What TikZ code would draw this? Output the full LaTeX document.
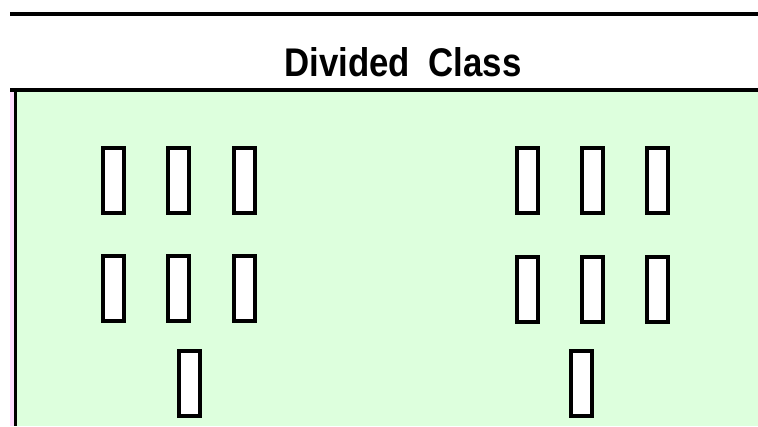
\documentclass[tikz,border=0pt]{standalone}
\usepackage{fontspec}
\setmainfont{Liberation Sans}
\usetikzlibrary{positioning}
\definecolor{bodygreen}{HTML}{DDFFDD}
\definecolor{edgepink}{HTML}{FFDDFF}

\begin{document}
\begin{tikzpicture}[x=1pt, y=-1pt,
  slot/.style={draw=black, line width=4pt, fill=white, inner sep=0pt,
              minimum width=21pt, minimum height=65pt},
  rule/.style={line width=4pt, black}
]
\useasboundingbox (0,0) rectangle (758,426);

% class frame
\fill[bodygreen] (17,92) rectangle (758,426);
\fill[edgepink] (10,92) rectangle (14,426);
\draw[rule] (10,14) -- (758,14);
\draw[rule] (10,90) -- (758,90);
\draw[line width=3pt] (15.5,88) -- (15.5,426);

\node[font=\bfseries\fontsize{40}{40}\selectfont, anchor=base, xscale=0.87,
      inner sep=0pt] (title) at (403,76) {Divided\hspace{10pt} Class};

% left group
\node[slot] (la1) at (113.5,180.5) {};
\node[slot] (la2) at (178.5,180.5) {};
\node[slot] (la3) at (244,180.5) {};
\node[slot] (lb1) at (113.5,288.5) {};
\node[slot] (lb2) at (178.5,288.5) {};
\node[slot] (lb3) at (244,288.5) {};
\node[slot] (lc)  at (189.5,383) {};

% right group
\node[slot] (ra1) at (527,180.5) {};
\node[slot] (ra2) at (592,180.5) {};
\node[slot] (ra3) at (657.5,180.5) {};
\node[slot] (rb1) at (527,289) {};
\node[slot] (rb2) at (592,289) {};
\node[slot] (rb3) at (657.5,289) {};
\node[slot] (rc)  at (581.5,383) {};
\end{tikzpicture}
\end{document}
